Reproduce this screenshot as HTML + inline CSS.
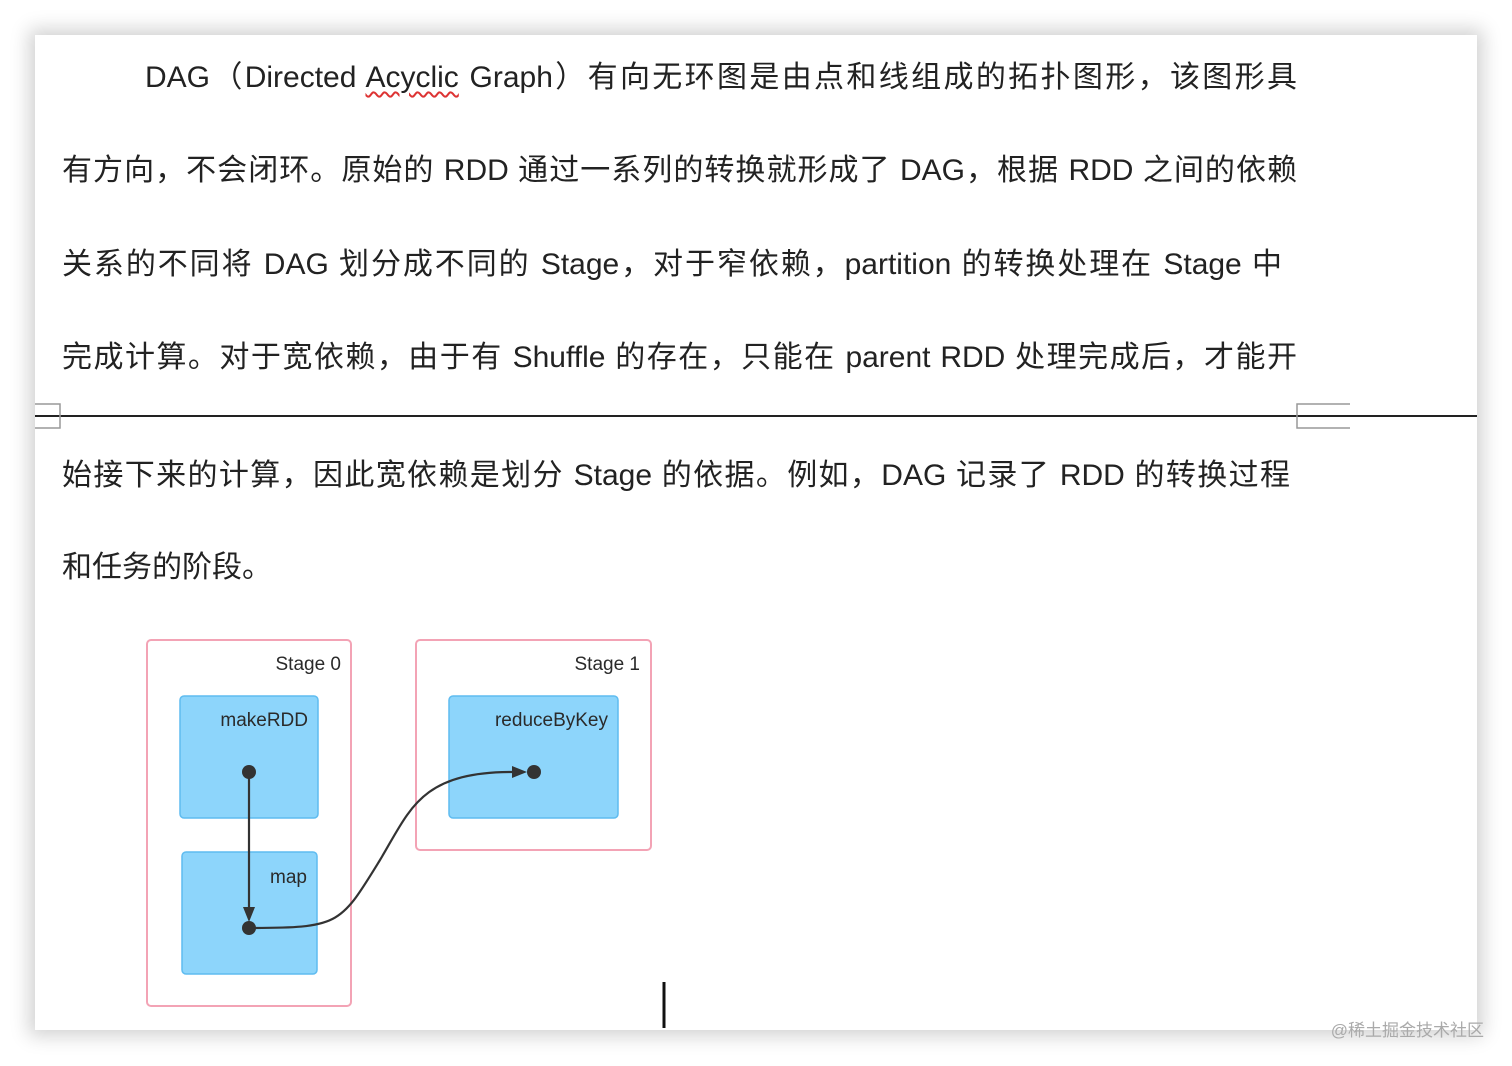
<!DOCTYPE html>
<html><head><meta charset="utf-8"><style>
body{margin:0;width:1512px;height:1066px;background:#fff;position:relative;overflow:hidden;font-family:"Liberation Sans","Noto Sans CJK SC",sans-serif;}
.card{position:absolute;left:35px;top:35px;width:1442px;height:995px;background:#fff;box-shadow:0 0 18px 6px rgba(0,0,0,0.18);}
.l{position:absolute;left:62px;width:1235px;font-size:30px;color:#222;white-space:nowrap;text-align:justify;text-align-last:justify;line-height:40px;}
.wm{position:absolute;right:28px;top:1016px;font-size:17px;color:#aaa;}
</style></head><body>
<div class="card"></div>
<div class="l" style="top:58px;left:145px;width:1152px">DAG（Directed <span style="text-decoration:underline wavy #d33;text-decoration-thickness:1.5px;text-underline-offset:4px">Acyclic</span> Graph）有向无环图是由点和线组成的拓扑图形，该图形具</div>
<div class="l" style="top:151px">有方向，不会闭环。原始的 RDD 通过一系列的转换就形成了 DAG，根据 RDD 之间的依赖</div>
<div class="l" style="top:245px;width:1220px">关系的不同将 DAG 划分成不同的 Stage，对于窄依赖，partition 的转换处理在 Stage 中</div>
<div class="l" style="top:338px">完成计算。对于宽依赖，由于有 Shuffle 的存在，只能在 parent RDD 处理完成后，才能开</div>
<div class="l" style="top:456px;width:1228px">始接下来的计算，因此宽依赖是划分 Stage 的依据。例如，DAG 记录了 RDD 的转换过程</div>
<div class="l" style="top:548px;text-align:left;text-align-last:left">和任务的阶段。</div>
<svg width="1512" height="1066" style="position:absolute;left:0;top:0">
<line x1="35" y1="416" x2="1477" y2="416" stroke="#222" stroke-width="2"/>
<path d="M35 404 H60 V428 H35" fill="none" stroke="#999" stroke-width="1.5"/>
<path d="M1350 404 H1297 V428 H1350" fill="none" stroke="#999" stroke-width="1.5"/>
<rect x="147" y="640" width="204" height="366" rx="4" fill="none" stroke="#f3a3b5" stroke-width="2"/>
<rect x="416" y="640" width="235" height="210" rx="4" fill="none" stroke="#f3a3b5" stroke-width="2"/>
<rect x="180" y="696" width="138" height="122" rx="4" fill="#8dd5fb" stroke="#5fbcf0" stroke-width="1.5"/>
<rect x="182" y="852" width="135" height="122" rx="4" fill="#8dd5fb" stroke="#5fbcf0" stroke-width="1.5"/>
<rect x="449" y="696" width="169" height="122" rx="4" fill="#8dd5fb" stroke="#5fbcf0" stroke-width="1.5"/>
<g font-size="19" fill="#2a2a2a" font-family="Liberation Sans,sans-serif">
<text x="341" y="670" text-anchor="end">Stage 0</text>
<text x="640" y="670" text-anchor="end">Stage 1</text>
<text x="308" y="726" text-anchor="end">makeRDD</text>
<text x="307" y="883" text-anchor="end">map</text>
<text x="608" y="726" text-anchor="end">reduceByKey</text>
</g>
<line x1="249" y1="772" x2="249" y2="915" stroke="#333" stroke-width="2.2"/>
<path d="M243 907 L255 907 L249 922 Z" fill="#333"/>
<path d="M249 928 C340 928 340 925 380 860 C410 810 420 772 512 772" fill="none" stroke="#333" stroke-width="2.2"/>
<path d="M512 766 L527 772 L512 778 Z" fill="#333"/>
<circle cx="249" cy="772" r="7" fill="#333"/>
<circle cx="249" cy="928" r="7" fill="#333"/>
<circle cx="534" cy="772" r="7" fill="#333"/>
<line x1="664" y1="982" x2="664" y2="1028" stroke="#111" stroke-width="3"/>
</svg>
<div class="wm">@稀土掘金技术社区</div>
</body></html>
